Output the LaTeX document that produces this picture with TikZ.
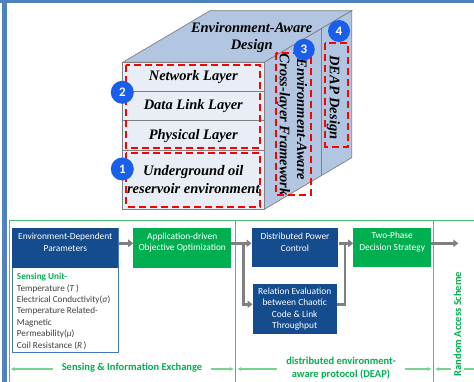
\documentclass[tikz,border=0pt]{standalone}
\usepackage{fontspec}
\setmainfont{Liberation Serif}
\newfontfamily\carlito{Carlito}
\usetikzlibrary{arrows.meta}

\definecolor{frameblue}{RGB}{79,129,189}
\definecolor{faceA}{RGB}{232,237,246}
\definecolor{faceB}{RGB}{178,197,225}
\definecolor{edgegray}{RGB}{128,128,128}
\definecolor{dashred}{RGB}{255,0,0}
\definecolor{badge}{RGB}{25,95,235}
\definecolor{navy}{RGB}{20,76,142}
\definecolor{navyline}{RGB}{70,120,190}
\definecolor{leaf}{RGB}{0,176,80}
\definecolor{rulegreen}{RGB}{70,190,110}
\definecolor{dimgreen}{RGB}{120,210,145}
\definecolor{flow}{RGB}{128,128,128}
\definecolor{bodytext}{RGB}{64,64,64}

\begin{document}
\begin{tikzpicture}[x=1pt,y=-1pt,
  face/.style={draw=edgegray,line width=0.7pt},
  cubetext/.style={font=\fontsize{14.5}{16.7}\selectfont\bfseries\itshape,inner sep=0pt,align=center},
  redbox/.style={draw=dashred,line width=2pt,dash pattern=on 7pt off 4pt},
  badgenode/.style={circle,fill=badge,text=white,minimum size=23pt,inner sep=0pt,
    font=\carlito\fontsize{13}{13}\selectfont\bfseries},
  navybox/.style={fill=navy,inner sep=0pt},
  greenbox/.style={fill=leaf,inner sep=0pt},
  boxtext/.style={text=white,align=center,inner sep=0pt,font=\carlito\fontsize{9.4}{11.6}\selectfont},
  flowarrow/.style={draw=flow,line width=2.6pt,-{Triangle[length=5pt,width=7.5pt]}},
  flowline/.style={draw=flow,line width=2.6pt},
  rule/.style={draw=rulegreen,line width=0.9pt},
  dimline/.style={draw=dimgreen,line width=1.4pt},
  dimlabel/.style={fill=white,text=leaf,inner xsep=9pt,inner ysep=2pt,
    font=\carlito\fontsize{10.5}{12.3}\selectfont\bfseries,align=center}
]
\useasboundingbox (0,0) rectangle (474,382);

% page frame
\fill[frameblue] (0,0) rectangle (474,3.3);
\fill[frameblue] (1.5,0) rectangle (6.5,382);

% ---------- layered cube ----------
\coordinate (fA) at (122.7,62.3);
\coordinate (fB) at (264.3,62.3);
\coordinate (fC) at (264.3,209.3);
\coordinate (fD) at (122.7,209.3);
\coordinate (bA) at (210,10.7);
\coordinate (bB) at (351.7,10.7);
\coordinate (bC) at (351.7,157.7);
\filldraw[face,fill=faceB] (fA) -- (bA) -- (bB) -- (fB) -- cycle;
\filldraw[face,fill=faceB] (fB) -- (bB) -- (bC) -- (fC) -- cycle;
\filldraw[face,fill=faceA] (fA) rectangle (fC);
\draw[face] (122.7,91) -- (264.3,91);
\draw[face] (122.7,120.7) -- (264.3,120.7);
\draw[face] (122.7,150) -- (264.3,150);
\draw[face] (321.7,28.4) -- (321.7,175.4);

\node[cubetext] (t-top) at (251.7,37.7) {Environment-Aware\\Design};
\node[cubetext] (t-net) at (193.3,77.3) {Network Layer};
\node[cubetext] (t-dll) at (193.3,106) {Data Link Layer};
\node[cubetext] (t-phy) at (193.3,135.7) {Physical Layer};
\node[cubetext,font=\fontsize{14.5}{18}\selectfont\bfseries\itshape] (t-env) at (193.3,180) {Underground oil\\reservoir environment};
\node[cubetext,rotate=-90,anchor=west] (t-cross) at (283.3,53.5) {Cross-layer Framework};
\node[cubetext,rotate=-90,anchor=west] (t-eaw) at (302,58.5) {Environment-Aware};
\node[cubetext,rotate=-90,anchor=west] (t-deap) at (333.3,55) {DEAP Design};

\draw[redbox] (126,65) rectangle (260,147.7);
\draw[redbox] (126,153.3) rectangle (260,206.7);
\draw[redbox] (276,52.7) rectangle (310.7,195);
\draw[redbox] (325,43.3) rectangle (348.3,146.7);

\node[badgenode] (b1) at (122.3,169) {1};
\node[badgenode] (b2) at (122.3,92.3) {2};
\node[badgenode,minimum size=21.5pt] (b3) at (304,49.5) {3};
\node[badgenode,minimum size=22pt] (b4) at (339,31) {4};

% ---------- protocol flow ----------
\draw[rule] (9,220.7) -- (474,220.7);
\draw[rule] (9,220.7) -- (9,382);
\draw[rule] (235.5,220.7) -- (235.5,382);
\draw[rule] (433.3,220.7) -- (433.3,382);

\node[draw=navyline,line width=0.8pt,fill=white,minimum width=106pt,minimum height=124.4pt,inner sep=0pt] (sense) at (65.3,290.5) {};
\node[navybox,minimum width=106pt,minimum height=39.4pt] (envpar) at (65.3,248) {};
\node[boxtext] (envpar-t) at (65.3,242.5) {Environment-Dependent\\Parameters};
\node[anchor=north west,inner sep=0pt,align=left,text=bodytext,
  font=\carlito\fontsize{9.2}{11.4}\selectfont] (sense-t) at (16.7,273)
  {\textcolor{leaf}{\bfseries Sensing Unit-}\\
   Temperature (\textit{T}\,)\\
   Electrical Conductivity(\textit{σ})\\
   Temperature Related-\\
   Magnetic\\
   Permeability(\textit{μ})\\
   Coil Resistance (\textit{R}\,)};

\node[greenbox,minimum width=97.7pt,minimum height=39.4pt] (appopt) at (182.2,248) {};
\node[boxtext] (appopt-t) at (182.2,242.5) {Application-driven\\Objective Optimization};

\node[navybox,minimum width=86.6pt,minimum height=39pt] (dpc) at (295,247.8) {};
\node[boxtext] (dpc-t) at (295,242.2) {Distributed Power\\Control};

\node[navybox,minimum width=84pt,minimum height=50pt] (relev) at (294.7,309) {};
\node[boxtext] (relev-t) at (294.7,309.1) {Relation Evaluation\\between Chaotic\\Code \& Link\\Throughput};

\node[greenbox,minimum width=77.7pt,minimum height=39pt] (twophase) at (392.2,247.8) {};
\node[boxtext] (twophase-t) at (392.2,242.2) {Two-Phase\\Decision Strategy};

\coordinate (spine) at (0,243.3);
\coordinate (lowspine) at (0,304.3);
\coordinate (split) at (243.3,243.3);
\coordinate (merge) at (345,243.3);
\coordinate (outend) at (458.3,243.3);

\draw[flowarrow] (envpar.east |- spine) -- (appopt.west |- spine);
\draw[flowarrow] (appopt.east |- spine) -- (dpc.west |- spine);
\draw[flowarrow] (split) |- (relev.west |- lowspine);
\draw[flowarrow] (dpc.east |- spine) -- (twophase.west |- spine);
\draw[flowline] (relev.east |- lowspine) -| (merge);
\draw[flowarrow] (twophase.east |- spine) -- (outend);

% ---------- scope annotations ----------
\coordinate (d0) at (9,369);
\coordinate (d1) at (235.5,369);
\coordinate (d2) at (433.3,369);
\coordinate (d3) at (474,369);
\draw[dimline,{Stealth[length=4pt,width=4pt]}-{Stealth[length=4pt,width=4pt]},shorten <=2pt,shorten >=2pt] (d0) -- (d1);
\draw[dimline,{Stealth[length=4pt,width=4pt]}-{Stealth[length=4pt,width=4pt]},shorten <=2pt,shorten >=2pt] (d1) -- (d2);
\draw[dimline,{Stealth[length=4pt,width=4pt]}-,shorten <=2pt] (d2) -- (d3);

\node[dimlabel] (lab1) at (132,367.5) {Sensing \& Information Exchange};
\node[dimlabel] (lab2) at (341,368) {distributed environment-\\aware protocol (DEAP)};
\node[dimlabel,rotate=90,inner ysep=3pt] (lab3) at (457.5,324) {Random Access Scheme};
\end{tikzpicture}
\end{document}
